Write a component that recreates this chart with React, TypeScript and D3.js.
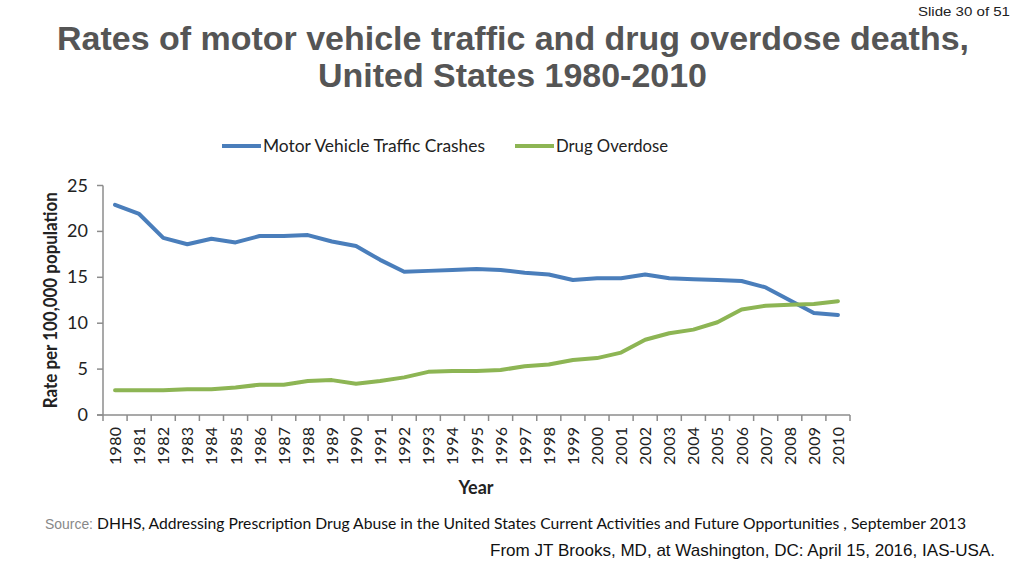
import React from "react";
import * as d3 from "d3";

const years: number[] = [1980,1981,1982,1983,1984,1985,1986,1987,1988,1989,1990,1991,1992,1993,1994,1995,1996,1997,1998,1999,2000,2001,2002,2003,2004,2005,2006,2007,2008,2009,2010];
const motorVehicle: number[] = [22.9,21.9,19.3,18.6,19.2,18.8,19.5,19.5,19.6,18.9,18.4,16.9,15.6,15.7,15.8,15.9,15.8,15.5,15.3,14.7,14.9,14.9,15.3,14.9,14.8,14.7,14.6,13.9,12.5,11.1,10.9];
const drugOverdose: number[] = [2.7,2.7,2.7,2.8,2.8,3.0,3.3,3.3,3.7,3.8,3.4,3.7,4.1,4.7,4.8,4.8,4.9,5.3,5.5,6.0,6.2,6.8,8.2,8.9,9.3,10.1,11.5,11.9,12.0,12.1,12.4];
const yTicks: number[] = [0,5,10,15,20,25];
const seriesNames: string[] = ["Motor Vehicle Traffic Crashes", "Drug Overdose"];
const seriesColors: string[] = ["#4a7ebb", "#8db554"];

export default function App() {
  const W = 1024, H = 576;
  const left = 103, right = 850, top = 185.5, bottom = 415;
  const x = d3.scaleBand<number>().domain(years).range([left, right]);
  const y = d3.scaleLinear().domain([0, 25]).range([bottom, top]);
  const cx = (yr: number) => (x(yr) as number) + x.bandwidth() / 2;
  const line = d3.line<number>().x((_, i) => cx(years[i])).y((v) => y(v)).curve(d3.curveLinear);
  const calibri = "Lato, 'Open Sans', sans-serif";
  const arial = "'Liberation Sans', Arial, sans-serif";
  const axisColor = "#8c8c8c";
  const boundaries = years.map((yr) => x(yr) as number).concat([right]);

  return (
    <svg width={W} height={H} style={{ position: "absolute", left: 0, top: 0, background: "#fff" }}>
      <text x={1010} y={16} textAnchor="end" fontFamily={arial} fontSize={13} fill="#222" textLength={92} lengthAdjust="spacingAndGlyphs">Slide 30 of 51</text>
      <text x={57} y={50} fontFamily={arial} fontWeight="bold" fontSize={34} fill="#555555" textLength={912} lengthAdjust="spacingAndGlyphs">Rates of motor vehicle traffic and drug overdose deaths,</text>
      <text x={318} y={87} fontFamily={arial} fontWeight="bold" fontSize={34} fill="#555555" textLength={389} lengthAdjust="spacingAndGlyphs">United States 1980-2010</text>

      {/* legend */}
      {seriesNames.map((name, i) => {
        const lx = i === 0 ? 222 : 515;
        const tl = i === 0 ? 222 : 112;
        return (
          <g key={name}>
            <line x1={lx} x2={lx + 39} y1={146} y2={146} stroke={seriesColors[i]} strokeWidth={4} />
            <text x={lx + 41} y={152} fontFamily={calibri} fontSize={18} fill="#222" textLength={tl} lengthAdjust="spacingAndGlyphs">{name}</text>
          </g>
        );
      })}

      {/* y axis */}
      <line x1={left} x2={left} y1={top} y2={bottom} stroke={axisColor} strokeWidth={1.5} />
      {yTicks.map((t) => (
        <g key={t}>
          <line x1={left - 6} x2={left} y1={y(t)} y2={y(t)} stroke={axisColor} strokeWidth={1.5} />
          <text x={88} y={y(t) + 6} textAnchor="end" fontFamily={calibri} fontSize={18} fill="#222">{t}</text>
        </g>
      ))}
      <text transform={`translate(57,${(top + bottom) / 2}) rotate(-90)`} textAnchor="middle" fontFamily={calibri} fontWeight="bold" fontSize={18} fill="#222" textLength={216} lengthAdjust="spacingAndGlyphs">Rate per 100,000 population</text>

      {/* x axis */}
      <line x1={left - 6} x2={right} y1={bottom} y2={bottom} stroke={axisColor} strokeWidth={1.5} />
      {boundaries.map((b, i) => (
        <line key={i} x1={b} x2={b} y1={bottom} y2={bottom + 6} stroke={axisColor} strokeWidth={1.5} />
      ))}
      {years.map((yr) => (
        <text key={yr} transform={`translate(${cx(yr) + 6},427) rotate(-90)`} textAnchor="end" fontFamily={calibri} fontSize={16} fill="#222" textLength={38} lengthAdjust="spacing">{yr}</text>
      ))}
      <text x={476} y={494} textAnchor="middle" fontFamily={calibri} fontWeight="bold" fontSize={18} fill="#222">Year</text>

      {/* lines */}
      <path d={line(motorVehicle) ?? ""} fill="none" stroke={seriesColors[0]} strokeWidth={4} strokeLinejoin="round" strokeLinecap="round" />
      <path d={line(drugOverdose) ?? ""} fill="none" stroke={seriesColors[1]} strokeWidth={4} strokeLinejoin="round" strokeLinecap="round" />

      {/* source */}
      <text x={45} y={529} fontFamily={arial} fontSize={15} fill="#888" textLength={48} lengthAdjust="spacingAndGlyphs">Source:</text>
      <text x={97} y={529} fontFamily={calibri} fontSize={15} fill="#111" textLength={869} lengthAdjust="spacingAndGlyphs">DHHS, Addressing Prescription Drug Abuse in the United States  Current Activities and Future Opportunities , September 2013</text>
      <text x={490} y={556} fontFamily={arial} fontSize={17} fill="#111" textLength={505} lengthAdjust="spacingAndGlyphs">From JT Brooks, MD, at Washington, DC: April 15, 2016, IAS-USA.</text>
    </svg>
  );
}
